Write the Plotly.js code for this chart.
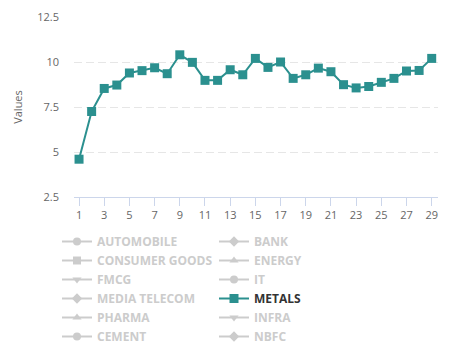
<!DOCTYPE html>
<html>
<head>
<meta charset="utf-8">
<script src="https://cdn.plot.ly/plotly-3.0.1.min.js"></script>
<style>html,body{margin:0;padding:0;background:#fff;}#chart{width:454px;height:351px;}</style>
</head>
<body>
<div id="chart"></div>
<script>
const days = [1,2,3,4,5,6,7,8,9,10,11,12,13,14,15,16,17,18,19,20,21,22,23,24,25,26,27,28,29];
const metals = [4.6,7.25,8.53,8.72,9.39,9.52,9.68,9.35,10.4,9.98,8.98,8.98,9.57,9.29,10.2,9.7,10.0,9.09,9.29,9.66,9.46,8.74,8.56,8.64,8.87,9.09,9.5,9.53,10.2];
// the other sectors are toggled off in the legend: no values are drawn for them
const hiddenValues = [null];
const seriesNames = ["AUTOMOBILE","BANK","CONSUMER GOODS","ENERGY","FMCG","IT","MEDIA TELECOM","METALS","PHARMA","INFRA","CEMENT","NBFC"];
const seriesSymbols = ["circle","diamond","square","triangle-up","triangle-down","circle","diamond","square","triangle-up","triangle-down","circle","diamond"];
const xTicks = [1,3,5,7,9,11,13,15,17,19,21,23,25,27,29];
const yTicks = [2.5,5,7.5,10,12.5];

const traces = seriesNames.map((name, i) => {
  const active = name === "METALS";
  return {
    type: 'scatter',
    mode: 'lines+markers',
    name: active ? "<span style='color:#333333'>" + name + "</span>" : name,
    x: active ? days : [days[0]],
    y: active ? metals : hiddenValues,
    line: {color: active ? '#2b908f' : '#cccccc', width: 2},
    marker: {symbol: seriesSymbols[i], size: active ? 9 : 8, color: active ? '#2b908f' : '#cccccc'},
    hoverinfo: 'x+y'
  };
});

const layout = {
  width: 454, height: 351,
  margin: {l: 74, r: 16, t: 17, b: 154},
  paper_bgcolor: '#fff', plot_bgcolor: '#fff',
  font: {family: '"Open Sans", "DejaVu Sans", sans-serif', color: '#666666', size: 11},
  xaxis: {
    range: [0.6, 29.5], tickvals: xTicks, ticktext: xTicks.map(String),
    showgrid: false, zeroline: false, showline: true, linecolor: '#ccd6eb', linewidth: 1,
    ticks: 'outside', ticklen: 8, tickcolor: '#ccd6eb', tickfont: {size: 11, color: '#666666'}
  },
  yaxis: {
    range: [2.5, 12.5], tickvals: yTicks, ticktext: yTicks.map(String),
    showgrid: true, gridcolor: '#e6e6e6', griddash: '8px,4px', zeroline: false, showline: false,
    ticks: '', ticklabelstandoff: 14, tickfont: {size: 11, color: '#666666'},
    title: {text: 'Values', font: {size: 11, color: '#666666'}, standoff: 12}
  },
  showlegend: true,
  legend: {
    orientation: 'h', xref: 'container', yref: 'container',
    x: 57/454, xanchor: 'left', y: 1 - 227/351, yanchor: 'top',
    entrywidth: 112, entrywidthmode: 'pixels',
    font: {size: 12, color: '#cccccc', weight: 'bold', family: '"Open Sans", "DejaVu Sans", sans-serif'},
    itemclick: false, itemdoubleclick: false, tracegroupgap: 0
  }
};

Plotly.newPlot('chart', traces, layout, {displayModeBar: false});
</script>
</body>
</html>
